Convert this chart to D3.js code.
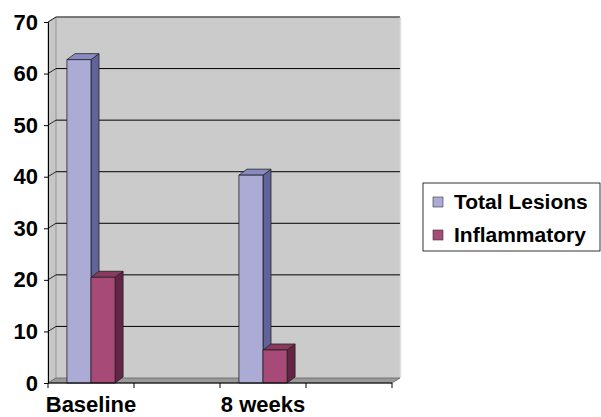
<!DOCTYPE html>
<html lang="en">
<head>
<meta charset="UTF-8">
<title>Lesions</title>
<script src="https://d3js.org/d3.v7.min.js"></script>
<style>
    body { margin: 0; background: #fff; }
    svg { display: block; }
    text { font-family: "Liberation Sans", Arial, sans-serif; font-weight: bold; fill: #000; }
</style>
</head>
<body>
<div id="chart"></div>
<script>
    // data
    const tickLabels = ["Baseline", "", "8 weeks", ""];
    const seriesNames = ["Total Lesions", "Inflammatory"];
    const totalLesions = [62.7, null, 40.3, null];
    const inflammatory = [20.5, null, 6.4, null];
    const yTicks = [0, 10, 20, 30, 40, 50, 60, 70];

    const width = 601, height = 417;
    const plotLeft = 48, plotRight = 392, plotBottom = 383, plotTop = 22;
    const wallDx = 8, wallDy = 5;   // depth of the back wall
    const barDx = 8, barDy = 6;     // depth of each bar

    const fronts = ["#ababd6", "#a84a78"];
    const sides = ["#63639b", "#632445"];
    const tops = ["#8a8ac2", "#8a3a5e"];

    const svg = d3.select("#chart").append("svg")
        .attr("width", width).attr("height", height);

    const x0 = d3.scaleBand()
        .domain(d3.range(tickLabels.length))
        .range([plotLeft, plotRight])
        .paddingInner(0.44)
        .paddingOuter(0.22);
    const x1 = d3.scaleBand()
        .domain(seriesNames)
        .range([0, x0.bandwidth()]);
    const y = d3.scaleLinear().domain([0, 70]).range([plotBottom, plotTop]);

    const pts = p => p.map(q => q.join(",")).join(" ");

    // walls
    svg.append("polygon")
        .attr("points", pts([[plotLeft + wallDx, plotTop - wallDy], [plotRight + wallDx, plotTop - wallDy],
            [plotRight + wallDx, plotBottom - wallDy], [plotLeft + wallDx, plotBottom - wallDy]]))
        .attr("fill", "#cbcbcb");
    svg.append("line")
        .attr("x1", plotLeft + wallDx).attr("x2", plotRight + wallDx)
        .attr("y1", plotTop - wallDy).attr("y2", plotTop - wallDy)
        .attr("stroke", "#555").attr("stroke-width", 1.5);
    svg.append("line")
        .attr("x1", plotRight + wallDx + 0.5).attr("x2", plotRight + wallDx + 0.5)
        .attr("y1", plotTop - wallDy).attr("y2", plotBottom - wallDy)
        .attr("stroke", "#e0e0e0").attr("stroke-width", 1.5);
    svg.append("polygon")
        .attr("points", pts([[plotLeft, plotTop], [plotLeft + wallDx, plotTop - wallDy],
            [plotLeft + wallDx, plotBottom - wallDy], [plotLeft, plotBottom]]))
        .attr("fill", "#c6c6c6").attr("stroke", "#8a8a8a").attr("stroke-width", 0.8);
    svg.append("polygon")
        .attr("points", pts([[plotLeft, plotBottom], [plotLeft + wallDx, plotBottom - wallDy],
            [plotRight + wallDx, plotBottom - wallDy], [plotRight, plotBottom]]))
        .attr("fill", "#999").attr("stroke", "#666").attr("stroke-width", 0.8);

    // gridlines on back and side walls
    const grid = svg.append("g").attr("stroke", "#000").attr("stroke-width", 1);
    grid.selectAll("line.back")
        .data(yTicks.filter(d => d > 0 && d < 70))
        .join("line")
        .attr("class", "back")
        .attr("x1", plotLeft + wallDx).attr("x2", plotRight + wallDx)
        .attr("y1", d => y(d) - wallDy).attr("y2", d => y(d) - wallDy);
    grid.selectAll("line.side")
        .data(yTicks.filter(d => d > 0))
        .join("line")
        .attr("class", "side")
        .attr("x1", plotLeft).attr("x2", plotLeft + wallDx)
        .attr("y1", d => y(d)).attr("y2", d => y(d) - wallDy)
        .attr("stroke-width", 0.8);

    // bars
    const seriesData = [totalLesions, inflammatory];
    const barG = svg.append("g").attr("stroke", "#222").attr("stroke-width", 0.8)
        .attr("stroke-linejoin", "round");
    tickLabels.forEach((lab, i) => {
        seriesNames.forEach((name, s) => {
            const v = seriesData[s][i];
            if (v == null) return;
            const xa = x0(i) + x1(name), xb = xa + x1.bandwidth();
            const yt = y(v), yb = y(0);
            barG.append("polygon")
                .attr("points", pts([[xb, yt], [xb + barDx, yt - barDy], [xb + barDx, yb - barDy], [xb, yb]]))
                .attr("fill", sides[s]);
            barG.append("polygon")
                .attr("points", pts([[xa, yt], [xa + barDx, yt - barDy], [xb + barDx, yt - barDy], [xb, yt]]))
                .attr("fill", tops[s]);
            barG.append("rect")
                .attr("x", xa).attr("y", yt)
                .attr("width", xb - xa).attr("height", yb - yt)
                .attr("fill", fronts[s]);
        });
    });

    // axes
    const yAxis = svg.append("g").attr("transform", `translate(${plotLeft},0)`)
        .call(d3.axisLeft(y).tickValues(yTicks).tickSize(4).tickPadding(6));
    yAxis.select(".domain").attr("stroke", "#000");
    yAxis.selectAll("text").attr("font-size", 22).attr("font-family", null);

    const xAxis = svg.append("g").attr("transform", `translate(0,${plotBottom})`);
    xAxis.append("line").attr("x1", plotLeft).attr("x2", plotRight)
        .attr("stroke", "#000");
    xAxis.selectAll("line.tick")
        .data(d3.range(tickLabels.length + 1))
        .join("line")
        .attr("class", "tick")
        .attr("x1", d => plotLeft + d * x0.step()).attr("x2", d => plotLeft + d * x0.step())
        .attr("y1", 0).attr("y2", 5)
        .attr("stroke", "#000");
    xAxis.selectAll("text")
        .data(tickLabels)
        .join("text")
        .attr("x", (d, i) => x0(i) + x0.bandwidth() / 2)
        .attr("y", 29)
        .attr("text-anchor", "middle")
        .attr("font-size", 22)
        .text(d => d);

    // legend
    const legend = svg.append("g").attr("transform", "translate(423,183)");
    legend.append("rect")
        .attr("width", 177).attr("height", 68)
        .attr("fill", "#fff").attr("stroke", "#000").attr("stroke-width", 0.8);
    const item = legend.selectAll("g.item")
        .data(seriesNames)
        .join("g")
        .attr("class", "item")
        .attr("transform", (d, i) => `translate(10,${14 + i * 33})`);
    item.append("rect")
        .attr("width", 10).attr("height", 10)
        .attr("fill", (d, i) => fronts[i]).attr("stroke", "#333").attr("stroke-width", 0.6);
    item.append("text")
        .attr("x", 21).attr("y", 12)
        .attr("font-size", 21)
        .text(d => d);
</script>
</body>
</html>
